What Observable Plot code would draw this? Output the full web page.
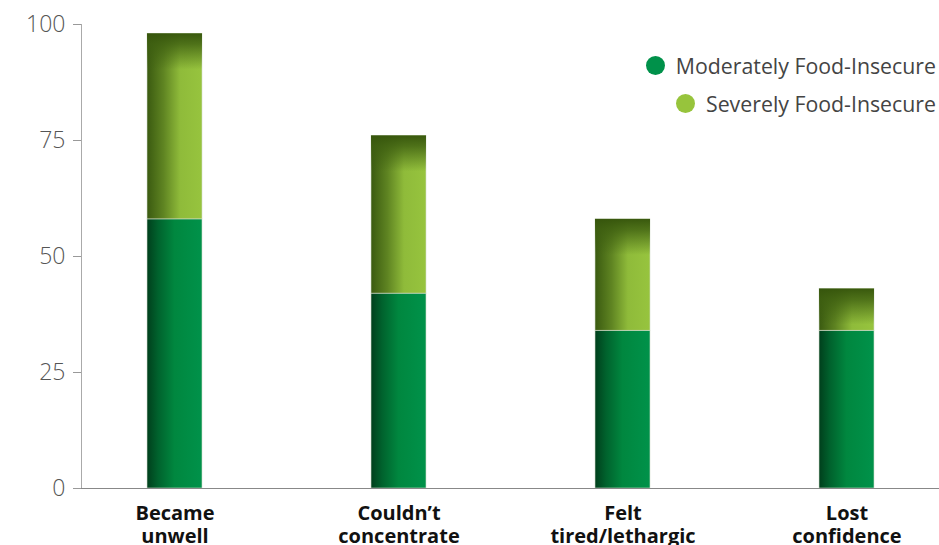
<!DOCTYPE html>
<html>
<head>
<meta charset="utf-8">
<script src="https://cdn.jsdelivr.net/npm/d3@7"></script>
<script src="https://cdn.jsdelivr.net/npm/@observablehq/plot@0.6"></script>
<style>
  html, body { margin: 0; padding: 0; background: #fff; overflow: hidden; }
  #wrap { position: relative; width: 939px; height: 545px; overflow: hidden; font-family: "Open Sans", sans-serif; }
  #legend { position: absolute; right: 3px; top: 51px; font-size: 21.3px; color: #444; text-align: right; }
  #legend .row { display: flex; align-items: center; justify-content: flex-end; height: 28px; margin-bottom: 10px; }
  #legend .dot { width: 19px; height: 19px; border-radius: 50%; margin-right: 11px; }
</style>
</head>
<body>
<div id="wrap">
  <div id="chart"></div>
  <div id="legend"></div>
</div>
<script>
const categories = ["Became unwell", "Couldn\u2019t concentrate", "Felt tired/lethargic", "Lost confidence"];
const categoryLabels = ["Became\nunwell", "Couldn\u2019t\nconcentrate", "Felt\ntired/lethargic", "Lost\nconfidence"];
const seriesNames = ["Moderately Food-Insecure", "Severely Food-Insecure"];
const moderate = [58, 42, 34, 34];
const severe = [40, 34, 24, 9];
const yTicks = [0, 25, 50, 75, 100];
const legendColors = ["#00914a", "#97c43c"];

const rows = [];
categories.forEach((c, i) => {
  rows.push({cat: c, series: seriesNames[0], value: moderate[i]});
  rows.push({cat: c, series: seriesNames[1], value: severe[i]});
});

const fills = ["url(#gMod)", "url(#gSev)"];

const svg = Plot.plot({
  width: 939,
  height: 560,
  marginLeft: 81,
  marginRight: 0,
  marginTop: 24,
  marginBottom: 72,
  style: {fontFamily: "'Open Sans', sans-serif", background: "white"},
  x: {domain: categories, paddingInner: 0.756, paddingOuter: 0.29, label: null},
  y: {domain: [0, 100], label: null},
  color: {domain: seriesNames, range: fills},
  marks: [
    Plot.barY(rows, {x: "cat", y: "value", fill: "series", order: seriesNames}),
    Plot.frame({anchor: "left", stroke: "#aaa"}),
    Plot.ruleY([0], {stroke: "#888"}),
    Plot.axisY({ticks: yTicks, tickSize: 8, tickPadding: 8, stroke: "#999", fill: "#555", fontSize: 23, fontWeight: 300, label: null}),
    Plot.axisX({tickSize: 0, tickPadding: 15, fontSize: 20, fontWeight: "bold", fill: "#111", lineHeight: 1.15,
      tickFormat: d => categoryLabels[categories.indexOf(d)], label: null})
  ]
});

// gradient definitions
const ns = "http://www.w3.org/2000/svg";
const defs = document.createElementNS(ns, "defs");
defs.innerHTML = `
  <linearGradient id="gMod" x1="0" y1="0" x2="1" y2="0">
    <stop offset="0" stop-color="#003f1c"/>
    <stop offset="0.2" stop-color="#00622d"/>
    <stop offset="0.5" stop-color="#00873f"/>
    <stop offset="1" stop-color="#00924a"/>
  </linearGradient>
  <linearGradient id="gSev" x1="0" y1="0" x2="1" y2="0">
    <stop offset="0" stop-color="#3a5a10"/>
    <stop offset="0.3" stop-color="#5f8422"/>
    <stop offset="0.6" stop-color="#8fbb3a"/>
    <stop offset="1" stop-color="#97c43e"/>
  </linearGradient>
  <linearGradient id="gCap" x1="0" y1="0" x2="0" y2="1">
    <stop offset="0" stop-color="#36550c" stop-opacity="0.97"/>
    <stop offset="0.3" stop-color="#3d5e10" stop-opacity="0.8"/>
    <stop offset="1" stop-color="#3d5e10" stop-opacity="0"/>
  </linearGradient>`;
svg.insertBefore(defs, svg.firstChild);

// darker cap at the top of each severe segment
svg.querySelectorAll("rect").forEach(r => {
  if (r.getAttribute("fill") === "url(#gSev)") {
    const h = +r.getAttribute("height");
    const cap = r.cloneNode();
    cap.setAttribute("height", Math.min(36, h));
    cap.setAttribute("fill", "url(#gCap)");
    r.parentNode.appendChild(cap);
  }
  const f = r.getAttribute("fill");
  if (f === "url(#gSev)" || f === "url(#gMod)") {
    r.setAttribute("stroke", "#d4dccd");
    r.setAttribute("stroke-width", "0.6");
  }
});

document.getElementById("chart").appendChild(svg);

const legend = document.getElementById("legend");
seriesNames.forEach((s, i) => {
  const row = document.createElement("div");
  row.className = "row";
  const dot = document.createElement("span");
  dot.className = "dot";
  dot.style.background = legendColors[i];
  const label = document.createElement("span");
  label.textContent = s;
  row.appendChild(dot);
  row.appendChild(label);
  legend.appendChild(row);
});
</script>
</body>
</html>
